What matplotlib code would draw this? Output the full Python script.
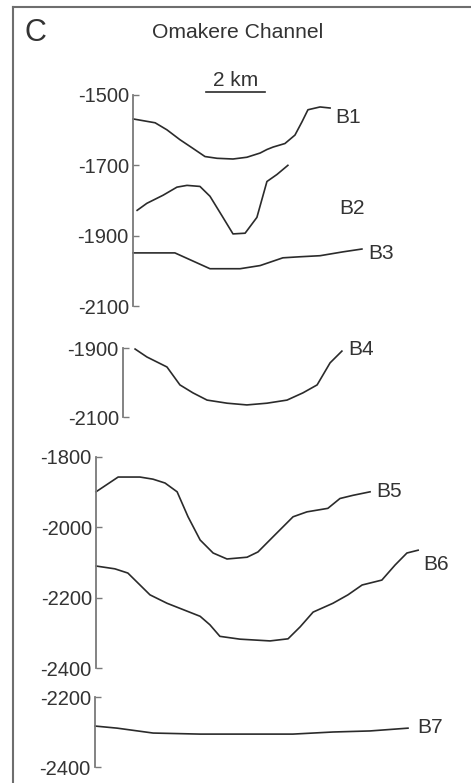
import matplotlib
matplotlib.use("Agg")
from matplotlib import pyplot as plt
from matplotlib.lines import Line2D

plt.rcParams['font.family'] = ['Liberation Sans', 'DejaVu Sans']

# distance along profile (km, from axis) and depth (m)
b1_x = [0, 0.75, 1.15, 1.59, 2.0, 2.44, 2.85, 3.39, 3.86, 4.31, 4.54, 4.75, 5.15, 5.49, 5.73, 5.93, 6.34, 6.68]
b1_z = [-1568, -1579, -1599, -1627, -1650, -1675, -1680, -1682, -1677, -1665, -1655, -1648, -1638, -1614, -1576, -1542, -1534, -1537]

b2_x = [0.14, 0.47, 1.02, 1.49, 1.83, 2.27, 2.61, 3.02, 3.39, 3.80, 4.20, 4.54, 4.88, 5.25]
b2_z = [-1828, -1808, -1785, -1762, -1757, -1760, -1788, -1844, -1895, -1893, -1848, -1746, -1726, -1700]

b3_x = [0, 1.42, 2.61, 3.63, 4.31, 5.08, 5.66, 6.34, 7.12, 7.76]
b3_z = [-1949, -1949, -1994, -1994, -1985, -1963, -1960, -1957, -1946, -1938]

b4_x = [0.41, 0.81, 1.49, 1.93, 2.37, 2.85, 3.53, 4.20, 4.88, 5.56, 6.10, 6.58, 7.02, 7.42]
b4_z = [-1903, -1926, -1955, -2007, -2030, -2051, -2060, -2065, -2060, -2051, -2030, -2007, -1943, -1909]

b5_x = [0, 0.75, 1.49, 1.93, 2.34, 2.75, 3.12, 3.53, 3.97, 4.44, 5.12, 5.49, 6.0, 6.68, 7.15, 7.86, 8.27, 8.71, 9.29]
b5_z = [-1899, -1857, -1857, -1863, -1874, -1899, -1970, -2036, -2073, -2090, -2085, -2070, -2027, -1970, -1956, -1946, -1918, -1909, -1899]

b6_x = [0, 0.64, 1.08, 1.83, 2.41, 3.53, 3.86, 4.20, 4.88, 5.90, 6.51, 6.92, 7.36, 8.03, 8.54, 9.02, 9.69, 10.14, 10.54, 10.92]
b6_z = [-2110, -2118, -2130, -2192, -2216, -2253, -2277, -2310, -2318, -2323, -2317, -2283, -2241, -2216, -2192, -2164, -2150, -2107, -2073, -2065]

b7_x = [0, 0.75, 1.97, 3.56, 6.71, 8.07, 9.32, 10.61]
b7_z = [-2283, -2289, -2303, -2306, -2306, -2300, -2297, -2289]

W, H = 471, 783
PX_KM = 29.5
line_c = '#2b2b2b'
axis_c = '#7a7a7a'
text_c = '#333333'

fig = plt.figure(figsize=(W / 100, H / 100), dpi=100)

def panel(left, top, bottom, ylim, ticks):
    ax = fig.add_axes([left / W, 1 - bottom / H, (W - left) / W, (bottom - top) / H])
    ax.set_xlim(0, (W - left) / PX_KM)
    ax.set_ylim(*ylim)
    for s in ['top', 'right', 'bottom']:
        ax.spines[s].set_visible(False)
    ax.spines['left'].set_color(axis_c)
    ax.spines['left'].set_linewidth(1.3)
    ax.set_xticks([])
    ax.set_yticks(ticks)
    ax.set_yticklabels([str(t) for t in ticks])
    ax.tick_params(axis='y', direction='in', length=4, width=1, color=axis_c,
                   labelsize=14.5, labelcolor=text_c, pad=3)
    ax.patch.set_visible(False)
    return ax

def profile(ax, x, z, name, lx, lz):
    ax.plot(x, z, color=line_c, lw=1.2, clip_on=False)
    ax.text(lx, lz, name, fontsize=15, color=text_c, ha='left', va='center')

ax1 = panel(133, 95, 306, (-2100, -1500), [-1500, -1700, -1900, -2100])
profile(ax1, b1_x, b1_z, 'B1', 6.85, -1565)
profile(ax1, b2_x, b2_z, 'B2', 6.98, -1822)
profile(ax1, b3_x, b3_z, 'B3', 7.97, -1952)
# scale bar
ax1.plot([2.47, 4.47], [-1491, -1491], color=line_c, lw=1.2, clip_on=False)
ax1.text(3.47, -1458, '2 km', fontsize=15, color=text_c, ha='center', va='center')

ax2 = panel(123, 348, 417, (-2100, -1900), [-1900, -2100])
profile(ax2, b4_x, b4_z, 'B4', 7.63, -1903)

ax3 = panel(96, 457, 668, (-2400, -1800), [-1800, -2000, -2200, -2400])
profile(ax3, b5_x, b5_z, 'B5', 9.49, -1899)
profile(ax3, b6_x, b6_z, 'B6', 11.08, -2107)

ax4 = panel(95, 697, 767, (-2400, -2200), [-2200, -2400])
profile(ax4, b7_x, b7_z, 'B7', 10.92, -2286)

# frame and headings
fig.add_artist(Line2D([13 / W, 13 / W], [0, 1 - 7 / H], color='#6e6e6e', lw=1.5))
fig.add_artist(Line2D([13 / W, 1], [1 - 7 / H, 1 - 7 / H], color='#6e6e6e', lw=1.5))
fig.text(24 / W, 1 - 33 / H, 'C', fontsize=22, color=text_c, ha='left', va='center')
fig.text(238 / W, 1 - 33 / H, 'Omakere Channel', fontsize=15.2, color=text_c, ha='center', va='center')

fig.savefig('out.png', dpi=100)
